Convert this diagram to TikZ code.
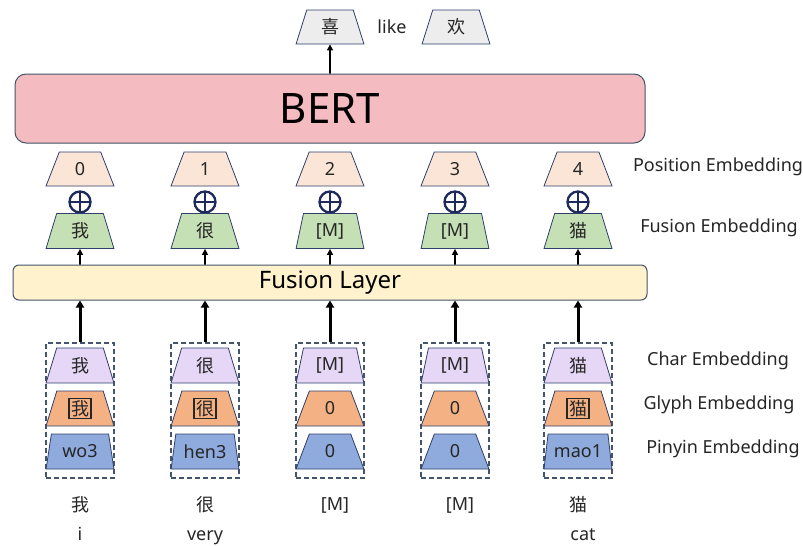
\documentclass[tikz,border=0pt]{standalone}
\usepackage{fontspec}
\setmainfont{Noto Sans}
\newfontfamily\cjk{Noto Sans CJK SC}
\usetikzlibrary{shapes.geometric,arrows.meta}

\definecolor{edge}{HTML}{2F3F6B}
\definecolor{boxedge}{HTML}{44546A}
\definecolor{bertfill}{HTML}{F4BCC0}
\definecolor{fusefill}{HTML}{FFF2CC}
\definecolor{posfill}{HTML}{FBE5D6}
\definecolor{fusembfill}{HTML}{C5E0B4}
\definecolor{charfill}{HTML}{E6D7F7}
\definecolor{glyphfill}{HTML}{F4B183}
\definecolor{pinfill}{HTML}{8FAADC}
\definecolor{outfill}{HTML}{EDEDED}
\definecolor{plusc}{HTML}{1F2A5C}
\definecolor{txt}{HTML}{262626}

% framed glyph image of a character
\newcommand{\gbox}[1]{{\setlength{\fboxsep}{1pt}\setlength{\fboxrule}{1.6pt}\fbox{\cjk #1}}}

\tikzset{
  emb/.style={trapezium, trapezium stretches=true,
    trapezium left angle=76, trapezium right angle=76,
    minimum width=68pt, minimum height=35pt, inner sep=0pt,
    draw=edge, line width=0.8pt, text=txt,
    font=\fontsize{18}{18}\selectfont},
  dashbox/.style={draw=boxedge, dashed, dash pattern=on 5pt off 3pt,
    line width=1.5pt, minimum width=68pt, minimum height=135pt, inner sep=0pt},
  oplus/.style={circle, draw=plusc, line width=2.3pt, minimum size=21pt, inner sep=0pt,
    path picture={\draw[plusc, line width=2.3pt]
      (path picture bounding box.north) -- (path picture bounding box.south)
      (path picture bounding box.west) -- (path picture bounding box.east);}},
  layerbox/.style={draw=boxedge, line width=1pt, inner sep=0pt, text=black},
  arr/.style={line width=1.6pt, -{Triangle[length=6pt,width=6pt]}},
  thickarr/.style={line width=3pt, -{Triangle[length=7pt,width=8pt]}},
  sidelabel/.style={text=txt, font=\fontsize{18}{18}\selectfont},
  toklabel/.style={text=txt, font=\fontsize{18}{18}\selectfont},
}

\begin{document}
\begin{tikzpicture}[x=1pt,y=-1pt]
\useasboundingbox (0,0) rectangle (803,546);

% output tokens
\node[emb, fill=outfill, minimum height=34pt] (out1) at (330,27) {\cjk 喜};
\node[emb, fill=outfill, minimum height=34pt] (out2) at (456,27) {\cjk 欢};
\node[sidelabel] (like) at (392,27) {like};

% BERT encoder
\node[layerbox, fill=bertfill, rounded corners=11pt, minimum width=630pt, minimum height=69pt,
  font=\fontsize{42}{42}\selectfont] (bert) at (330,108.5) {BERT};
\draw[arr] (bert.north -| out1) -- (out1.south);

% fusion layer
\node[layerbox, fill=fusefill, rounded corners=6pt, minimum width=634pt, minimum height=35pt,
  font=\fontsize{24}{24}\selectfont] (fl) at (330,282.5) {Fusion Layer};

% embedding columns
\foreach \i/\x/\pos/\fus/\chr/\gly/\pin in {
  1/80/0/{\cjk 我}/{\cjk 我}/{\gbox{我}}/wo3,
  2/205/1/{\cjk 很}/{\cjk 很}/{\gbox{很}}/hen3,
  3/330/2/{[M]}/{[M]}/0/0,
  4/455/3/{[M]}/{[M]}/0/0,
  5/578/4/{\cjk 猫}/{\cjk 猫}/{\gbox{猫}}/mao1}{
  \node[emb, fill=posfill, minimum height=34pt] (p\i) at (\x,169) {\pos};
  \node[oplus] (o\i) at (\x,202) {};
  \node[emb, fill=fusembfill] (f\i) at (\x,231) {\fus};
  \draw[arr] (fl.north -| f\i) -- (f\i.south);

  \node[dashbox] (d\i) at (\x,410.5) {};
  \node[emb, fill=charfill] (c\i) at (\x,365.5) {\chr};
  \node[emb, fill=glyphfill] (g\i) at (\x,408.5) {\gly};
  \node[emb, fill=pinfill] (y\i) at (\x,451.5) {\pin};
  \draw[thickarr] (d\i.north) -- (fl.south -| d\i);
}

% side labels
\node[sidelabel] (lpos) at (718,167) {Position Embedding};
\node[sidelabel] (lfus) at (719,228) {Fusion Embedding};
\node[sidelabel] (lchr) at (718,361) {Char Embedding};
\node[sidelabel] (lgly) at (719,405) {Glyph Embedding};
\node[sidelabel] (lpin) at (723,449) {Pinyin Embedding};

% input sentence
\node[toklabel] (w1) at (80,505) {\cjk 我};
\node[toklabel] (w2) at (205,505) {\cjk 很};
\node[toklabel] (w3) at (335,505) {[M]};
\node[toklabel] (w4) at (460,505) {[M]};
\node[toklabel] (w5) at (578,505) {\cjk 猫};
\node[toklabel, anchor=base, inner sep=0pt] (e1) at (80,540) {i};
\node[toklabel, anchor=base, inner sep=0pt] (e2) at (205,540) {very};
\node[toklabel, anchor=base, inner sep=0pt] (e5) at (583,540) {cat};
\end{tikzpicture}
\end{document}
